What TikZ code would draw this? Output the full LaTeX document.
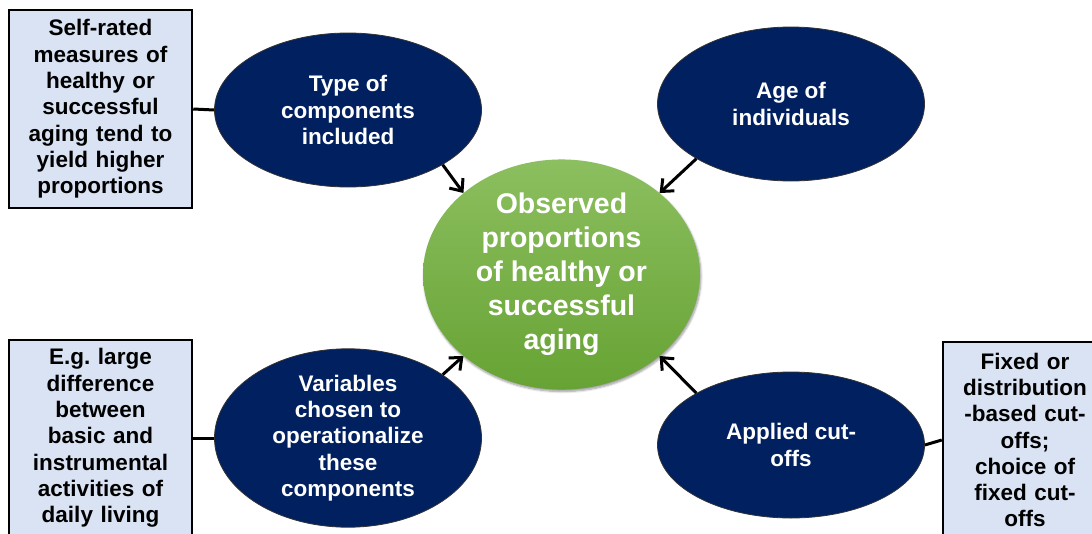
\documentclass[tikz,border=0pt]{standalone}
\usepackage{fontspec}
\setmainfont{Liberation Sans}
\usetikzlibrary{shapes.geometric,arrows.meta,shadows.blur}
\definecolor{navy}{RGB}{0,32,96}
\definecolor{paleblue}{RGB}{218,227,243}
\definecolor{greentop}{RGB}{140,191,95}
\definecolor{greenbot}{RGB}{103,163,52}
\tikzset{
	factor/.style={ellipse, fill=navy, draw=black!80, line width=.8pt, minimum width=267pt, minimum height=154pt, inner sep=0pt, text=white, align=center, font=\fontsize{22.5}{26.3}\selectfont\bfseries},
	note/.style={rectangle, fill=paleblue, draw=black, line width=2.5pt, minimum width=183pt, text width=175pt, inner sep=0pt, align=center, font=\fontsize{22.5}{26.3}\selectfont\bfseries},
	link/.style={line width=3pt},
	pointer/.style={line width=3pt, -{Straight Barb[length=10pt,width=17pt]}}
}
\begin{document}
\begin{tikzpicture}[x=1pt,y=-1pt]
		\clip (0,0) rectangle (1092,533);
		
		\node [ellipse, minimum width=277pt, minimum height=195pt, top color=greentop, bottom color=greenbot, blur shadow={shadow xshift=1pt, shadow yshift=-2pt, shadow blur steps=6}, inner sep=0pt, text=white, align=center, font=\fontsize{28.5}{34}\selectfont\bfseries] (obs) at (561.5,274.5) {Observed\\proportions\\of healthy or\\successful\\aging};
		
		\node [factor] (types) at (348,110) {Type of\\components\\included};
		\node [factor] (age) at (791,104) {Age of\\individuals};
		\node [factor] (vars) at (348,438) {Variables\\chosen to\\operationalize\\these\\components};
		\node [factor, minimum height=146pt] (cuts) at (791,445) {Applied cut-\\offs};
		
		\node [note, minimum height=198pt] (selfnote) at (100.5,109) {Self-rated\\measures of\\healthy or\\successful\\aging tend to\\yield higher\\proportions};
		\node [note, minimum height=196pt] (adlnote) at (100.5,438) {E.g.\ large\\difference\\between\\basic and\\instrumental\\activities of\\daily living};
		\node [note, minimum width=164pt, text width=160pt, minimum height=196pt] (cutnote) at (1025,440) {Fixed or\\distribution\\-based cut-\\offs;\\choice of\\fixed cut-\\offs};
		
		\draw [link] (selfnote.east) -- (types.west);
		\draw [link] (adlnote.east) -- (vars.west);
		\draw [link] (cuts.east) -- (cutnote.west);
		
		\draw [pointer] (types.south east) -- (obs.north west);
		\draw [pointer] (age.south west) -- (obs.north east);
		\draw [pointer] (vars.north east) -- (obs.south west);
		\draw [pointer] (cuts.north west) -- (obs.south east);
\end{tikzpicture}
\end{document}
